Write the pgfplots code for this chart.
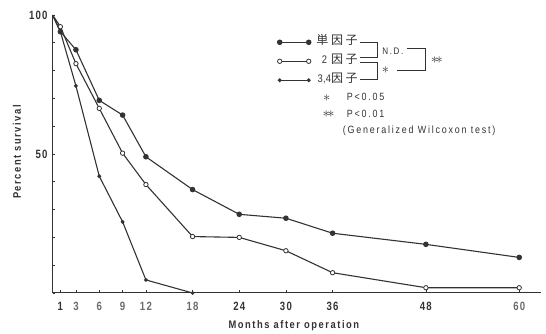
\documentclass[border=0pt]{standalone}
\usepackage{fontspec}
\usepackage{pgfplots}
\pgfplotsset{compat=1.18}
\setmainfont[FakeStretch=0.85, LetterSpace=17]{Liberation Sans}
\newfontfamily\tickfont[FakeStretch=0.8, LetterSpace=10]{Liberation Sans}
\newfontfamily\labfont[FakeStretch=0.85, LetterSpace=14]{Liberation Sans}
\newfontfamily\legfont[FakeStretch=0.85, LetterSpace=2]{Liberation Sans}
\newfontfamily\cjk[LetterSpace=22]{Noto Sans CJK JP}
\definecolor{ink}{HTML}{333333}
\definecolor{lite}{HTML}{6A6A6A}
\begin{document}
\begin{tikzpicture}
\begin{axis}[
  scale only axis, width=488.4pt, height=278pt,
  xmin=0, xmax=62.8, ymin=0, ymax=100,
  clip=false,
  axis x line=bottom, axis y line=left,
  axis line style={-, ink, line width=1pt},
  xtick={1,3,6,9,12,18,24,30,36,48,60},
  xticklabels={1,\textcolor{lite}{3},\textcolor{lite}{6},\textcolor{lite}{9},\textcolor{lite}{12},\textcolor{lite}{18},24,30,36,48,\textcolor{lite}{60}},
  ytick={0,10,...,100}, yticklabels={,,,,,50,,,,,100},
  tick align=inside, major tick length=2.5pt,
  tick style={ink, line width=0.6pt},
  tick label style={font=\tickfont\bfseries\fontsize{12}{13}\selectfont, text=ink},
  xticklabel style={yshift=-6pt},
  yticklabel style={xshift=-1.5pt},
  xlabel={Months after operation}, ylabel={Percent survival},
  label style={font=\labfont\bfseries\fontsize{11}{12}\selectfont, text=ink},
  xlabel style={at={(axis description cs:0.494,-0.1176)}, anchor=center},
  ylabel style={at={(axis description cs:-0.0729,0.507)}, anchor=center},
  legend image code/.code={\draw[#1,mark indices={1,2}] plot coordinates {(0pt,0pt) (29pt,0pt)};},
  legend cell align=right,
  legend style={draw=none, fill=none, inner sep=0pt, outer sep=0pt,
    at={(axis cs:39.23,91.8)}, anchor=north east,
    row sep=10pt,
    nodes={inner sep=0pt, text height=7pt, text depth=2pt},
    font=\legfont\fontsize{11}{12}\selectfont, text=ink,
    /tikz/every odd column/.append style={column sep=5.5pt}},
]
\addplot[ink, line width=1.1pt, mark=*, mark size=2.2pt, mark indices={2,...,12}]
  coordinates {(0,100) (1,94) (3,87.5) (6,69.3) (9,64) (12,49) (18,37.2) (24,28.3) (30,26.9) (36,21.5) (48,17.5) (60,12.8)};
\addplot[ink, line width=1.1pt, mark=*, mark size=2.2pt, mark options={fill=white, line width=0.8pt}, mark indices={2,...,12}]
  coordinates {(0,100) (1,95.8) (3,82.5) (6,66.4) (9,50.3) (12,39) (18,20.3) (24,20) (30,15.2) (36,7.3) (48,1.9) (60,1.9)};
\addplot[ink, line width=1.1pt, mark=*, mark size=1.3pt, mark indices={2,...,7}]
  coordinates {(0,100) (1,94) (3,74.5) (6,42) (9,25.6) (12,4.7) (18,0)};
\legend{{\cjk\fontsize{12}{13}\selectfont 単因子}, {2\hspace{4pt}{\cjk\fontsize{12}{13}\selectfont 因子}}, {3,4{\cjk\fontsize{12}{13}\selectfont 因子}}}
\end{axis}
\begin{scope}[x=1pt, y=-1pt, shift={(-52.6pt,293pt)}, ink, line width=0.8pt]
  % left brackets
  \draw (360,42.7) -- (377.3,42.7) -- (377.3,57) -- (360,57);
  \draw (360,62.5) -- (377.3,62.5) -- (377.3,79) -- (360,79);
  % right bracket
  \draw (406.7,48.3) -- (425.7,48.3) -- (425.7,70) -- (396.7,70);
  \node[font=\fontsize{9.5}{11}\selectfont, anchor=west, inner sep=0pt] at (382,51.7) {N.D.};
  \node[inner sep=0pt, anchor=west, font=\Large] at (381.5,70.3) {$\ast$};
  \node[inner sep=0pt, anchor=west, font=\Large] at (430.5,60) {$\ast\!\ast$};
  \node[inner sep=0pt, font=\Large] at (326.7,98.3) {$\ast$};
  \node[inner sep=0pt, font=\Large] at (328.5,114.6) {$\ast\!\ast$};
  \node[font=\fontsize{10.5}{12}\selectfont, anchor=west, inner sep=0pt] at (346.5,97.3) {P<0.05};
  \node[font=\fontsize{10.5}{12}\selectfont, anchor=west, inner sep=0pt] at (346.5,114) {P<0.01};
  \node[font=\fontsize{10.5}{12}\selectfont, anchor=west, inner sep=0pt] at (342.5,130.5) {(Generalized Wilcoxon test)};
\end{scope}
\pgfresetboundingbox
\useasboundingbox (-52.6pt,-41pt) rectangle (493.4pt,293pt);
\end{tikzpicture}
\end{document}
